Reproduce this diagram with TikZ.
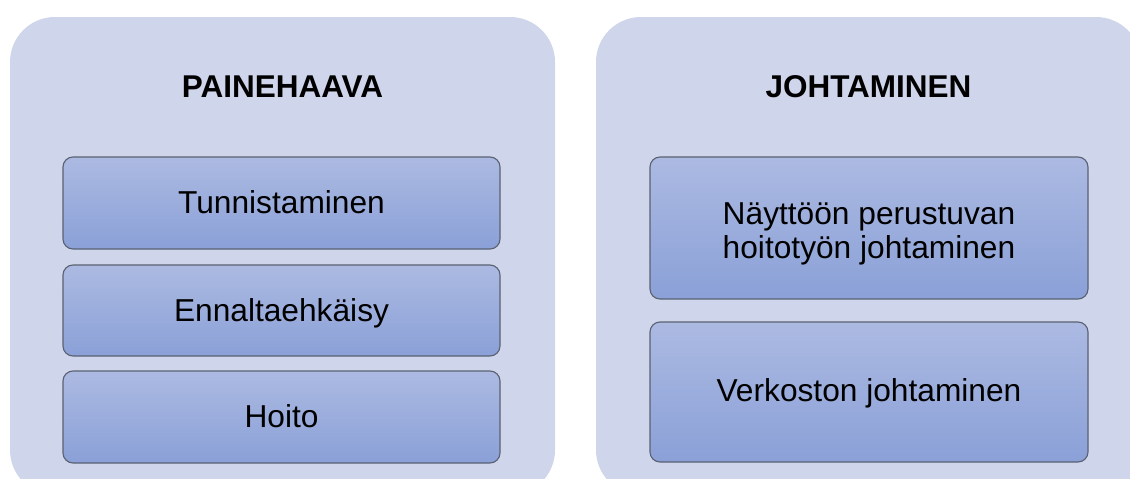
\documentclass[tikz,border=0pt]{standalone}
\usepackage{fontspec}
\setmainfont{Liberation Sans}
\definecolor{panelc}{HTML}{CFD5EA}
\definecolor{topc}{HTML}{ACBAE2}
\definecolor{botc}{HTML}{8AA0D7}
\definecolor{edgec}{HTML}{5A6172}
\begin{document}
\begin{tikzpicture}[x=1pt,y=-1pt,
  panel/.style={fill=panelc, draw=none, rounded corners=45pt, minimum width=545pt, minimum height=478pt, inner sep=0pt},
  titletext/.style={font=\fontsize{31.5}{34}\selectfont\bfseries, text=black, anchor=base, inner sep=0pt},
  itembox/.style={draw=edgec, line width=1.1pt, rounded corners=10pt, top color=topc, bottom color=botc,
    font=\fontsize{31.7}{34.2}\selectfont, text=black, align=center, inner sep=0pt},
  itemtext/.style={font=\fontsize{31.7}{34.2}\selectfont, text=black, align=center, inner sep=0pt, anchor=base}]
\useasboundingbox (0,0) rectangle (1130,479);
\clip (0,0) rectangle (1130,479);
\node[panel] (p1) at (282.5,256) {};
\node[panel] (p2) at (868.5,256) {};
\node[titletext] (t1) at (282.5,97) {PAINEHAAVA};
\node[titletext] (t2) at (868.5,97) {JOHTAMINEN};
\node[itembox, minimum width=437pt, minimum height=92pt] (a1) at (281.5,203) {};
\node[itemtext] (a1t) at (a1.center) [yshift=-10.5pt] {Tunnistaminen};
\node[itembox, minimum width=437pt, minimum height=91pt] (a2) at (281.5,310.5) {};
\node[itemtext] (a2t) at (a2.center) [yshift=-10.5pt] {Ennaltaehkäisy};
\node[itembox, minimum width=437pt, minimum height=92pt] (a3) at (281.5,417) {};
\node[itemtext] (a3t) at (a3.center) [yshift=-10.5pt] {Hoito};
\node[itembox, minimum width=438pt, minimum height=142pt] (b1) at (869,228) {};
\node[itemtext] (b1t) at (869,258.3) {Näyttöön perustuvan\\hoitotyön johtaminen};
\node[itembox, minimum width=438pt, minimum height=140pt] (b2) at (869,392) {};
\node[itemtext] (b2t) at (b2.center) [yshift=-9.7pt] {Verkoston johtaminen};
\end{tikzpicture}
\end{document}
